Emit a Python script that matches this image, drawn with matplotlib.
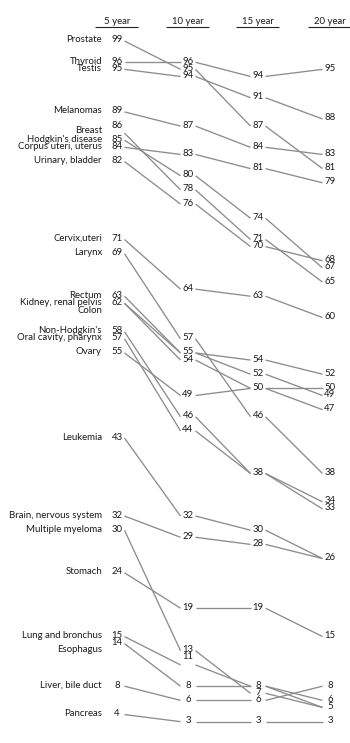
import matplotlib
matplotlib.use("Agg")
import matplotlib.pyplot as plt

plt.rcParams['font.family'] = ['Lato', 'DejaVu Sans']

cancers = ["Prostate", "Thyroid", "Testis", "Melanomas", "Breast",
           "Hodgkin's disease", "Corpus uteri, uterus", "Urinary, bladder",
           "Cervix,uteri", "Larynx", "Rectum", "Kidney, renal pelvis", "Colon",
           "Non-Hodgkin's", "Oral cavity, pharynx", "Ovary", "Leukemia",
           "Brain, nervous system", "Multiple myeloma", "Stomach",
           "Lung and bronchus", "Esophagus", "Liver, bile duct", "Pancreas"]
y5 = [99, 96, 95, 89, 86, 85, 84, 82, 71, 69, 63, 62, 62, 58, 57, 55, 43, 32, 30, 24, 15, 14, 8, 4]
y10 = [95, 96, 94, 87, 78, 80, 83, 76, 64, 57, 55, 54, 55, 46, 44, 49, 32, 29, 13, 19, 11, 8, 6, 3]
y15 = [87, 94, 91, 84, 71, 74, 81, 70, 63, 46, 52, 50, 54, 38, 38, 50, 30, 28, 7, 19, 8, 8, 6, 3]
y20 = [81, 95, 88, 83, 65, 67, 79, 68, 60, 38, 49, 47, 52, 34, 33, 50, 26, 26, 5, 15, 6, 5, 8, 3]
headers = ["5 year", "10 year", "15 year", "20 year"]

series = [y5, y10, y15, y20]

# layout (pixels)
W, H = 350, 743
PX_PER_UNIT = 7.09
Y0_PX, Y0_VAL = 41, 99
col_x = [117, 188, 258, 330]
gap = 7.5
label_right = 102

def px2v(py):
    return Y0_VAL - (py - Y0_PX) / PX_PER_UNIT

label_nudge_px = {"Breast": -1.5, "Colon": 8.5, "Esophagus": 7}
number_nudge_px = {(0, 86): -7, (1, 11): -7}

fig = plt.figure(figsize=(W / 100, H / 100), dpi=100)
ax = fig.add_axes([0, 0, 1, 1])
ax.set_xlim(0, W)
ax.set_ylim(px2v(H), px2v(0))
ax.axis('off')

fs = 6.9
tcol = '#1a1a1a'
lcol = '#8c8c8c'

# headers
for i, h in enumerate(headers):
    ax.text(col_x[i], px2v(21.5), h, ha='center', va='center', fontsize=fs, color=tcol)
    ax.plot([col_x[i] - 22, col_x[i] + 21], [px2v(26.5), px2v(26.5)], color='#222222', lw=0.8,
            solid_capstyle='butt')

# lines
for name, vals in zip(cancers, zip(*series)):
    for i in range(3):
        ax.plot([col_x[i] + gap, col_x[i + 1] - gap], [vals[i], vals[i + 1]],
                color=lcol, lw=0.95, solid_capstyle='butt')

# numbers
for i, vals in enumerate(series):
    for v in sorted(set(vals)):
        dy = number_nudge_px.get((i, v), 0)
        ax.text(col_x[i], px2v(Y0_PX + (Y0_VAL - v) * PX_PER_UNIT + dy - 1), str(v),
                ha='center', va='center', fontsize=fs, color=tcol)

# labels
for name, v in zip(cancers, y5):
    dy = label_nudge_px.get(name, 0)
    ax.text(label_right, px2v(Y0_PX + (Y0_VAL - v) * PX_PER_UNIT + dy - 1), name,
            ha='right', va='center', fontsize=fs, color=tcol)

fig.savefig("out.png", dpi=100, facecolor='white')
